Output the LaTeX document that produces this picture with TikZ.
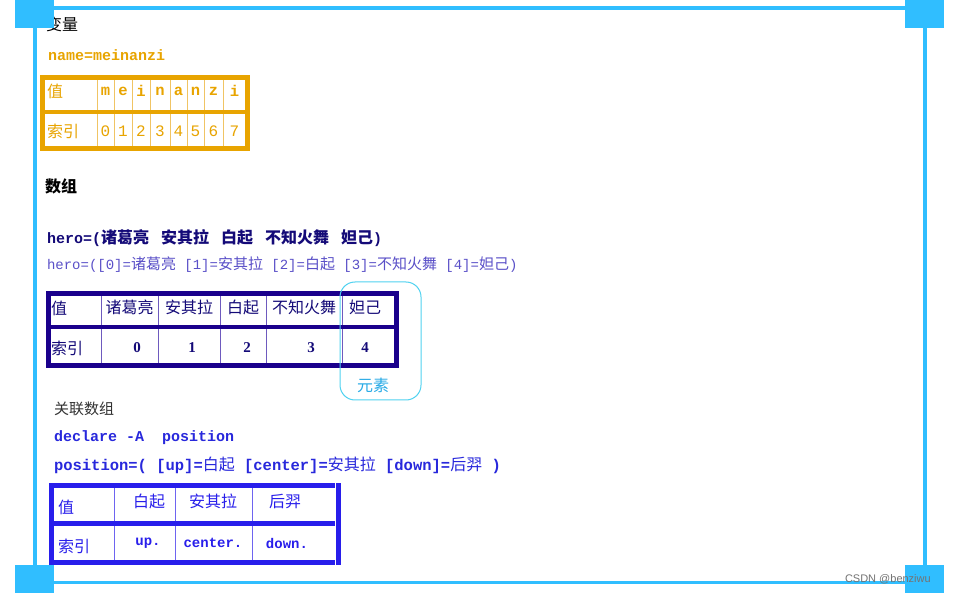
\documentclass[tikz,border=0pt]{standalone}
\usepackage{fontspec}
\setmainfont{Liberation Serif}
\newfontfamily\cjk{Noto Sans CJK SC}
\newfontfamily\mono{Liberation Mono}
\newfontfamily\sans{Liberation Sans}
\definecolor{frameC}{RGB}{48,190,255}
\definecolor{orangeC}{RGB}{232,164,0}
\definecolor{orangeL}{RGB}{240,196,100}
\definecolor{navyC}{RGB}{26,0,140}
\definecolor{navyL}{RGB}{110,90,190}
\definecolor{navyT}{RGB}{20,10,120}
\definecolor{heroL}{RGB}{90,80,200}
\definecolor{blueC}{RGB}{40,30,235}
\definecolor{blueL}{RGB}{110,100,240}
\definecolor{blueT}{RGB}{40,40,220}
\definecolor{cyanC}{RGB}{80,210,240}
\definecolor{cyanT}{RGB}{40,170,230}
\definecolor{greyT}{RGB}{50,50,50}
\tikzset{
  txt/.style={inner sep=0pt, outer sep=0pt},
  lw/.style={txt, anchor=west},
  cj/.style={font=\cjk\fontsize{#1}{#1}\selectfont},
  mo/.style={font=\mono\bfseries\fontsize{#1}{#1}\selectfont},
}
\newcommand{\mb}[1]{{\mono\bfseries\fontsize{15.5}{15.5}\selectfont #1}}
\newcommand{\cb}[1]{{\cjk\fontsize{16}{16}\selectfont #1}}
\newcommand{\ml}[1]{{\mono\fontsize{14}{14}\selectfont #1}}
\newcommand{\cl}[1]{{\cjk\fontsize{15}{15}\selectfont #1}}
\begin{document}
\begin{tikzpicture}[x=1pt,y=-1pt]
\useasboundingbox (0,0) rectangle (953,593);
\fill[white] (0,0) rectangle (953,593);

% ---------- headings ----------
\node[lw, cj=16, text=black] (h1) at (46,24) {变量};
\node[lw, text=orangeC, mo=15] (name) at (48,55) {name=meinanzi};

% ---------- table 1 ----------
\draw[orangeL, line width=1pt]
  \foreach \x in {97,114,132,150,170,187,204,223} { (\x,80) -- (\x,146) };
\draw[orangeC, line width=5pt] (42.5,77.5) rectangle (247.5,148.5);
\draw[orangeC, line width=4pt] (42.5,112) -- (247.5,112);
\node[lw, cj=16, text=orangeC] (t1v) at (47,91) {值};
\node[lw, cj=16, text=orangeC] (t1i) at (47,131) {索引};
\foreach \x/\c [count=\i] in {105.5/m,123/e,141/i,160/n,178.5/a,195.5/n,213.5/z,234.5/i}
  \node[txt, text=orangeC, mo=15.5] (t1c\i) at (\x,91) {\c};
\foreach \x/\c [count=\i] in {105.5/0,123/1,141/2,160/3,178.5/4,195.5/5,213.5/6,234.5/7}
  \node[txt, text=orangeC, font=\mono\fontsize{16}{16}\selectfont] (t1d\i) at (\x,131) {\c};

% ---------- section 2 ----------
\node[lw, font=\cjk\bfseries\fontsize{16}{16}\selectfont, text=black] (h2) at (45,186) {数组};
\node[lw, text=navyT] (hero1) at (47,238)
  {{\mono\bfseries\fontsize{15}{15}\selectfont hero=(}{\cjk\bfseries\fontsize{16}{16}\selectfont 诸葛亮\hspace{12pt}安其拉\hspace{12pt}白起\hspace{12pt}不知火舞\hspace{12pt}妲己}{\mono\bfseries\fontsize{15}{15}\selectfont )}};
\node[lw, text=heroL] (hero2) at (47,265)
  {\ml{hero=([0]=}\cl{诸葛亮}\ml{ [1]=}\cl{安其拉}\ml{ [2]=}\cl{白起}\ml{ [3]=}\cl{不知火舞}\ml{ [4]=}\cl{妲己}\ml{)}};

% ---------- table 2 ----------
\draw[navyL, line width=1pt]
  \foreach \x in {101,158,220,266,342} { (\x,296) -- (\x,364) };
\draw[navyC, line width=5pt] (48.5,293.5) rectangle (396.5,365.5);
\draw[navyC, line width=4pt] (48.5,327) -- (396.5,327);
\node[lw, cj=16, text=navyT] (t2v) at (51,308) {值};
\node[lw, cj=16, text=navyT] (t2i) at (51,348) {索引};
\foreach \x/\c [count=\i] in {129.5/诸葛亮,189/安其拉,243/白起,304/不知火舞,365/妲己}
  \node[txt, cj=16, text=navyT] (t2c\i) at (\x,307) {\c};
\foreach \x/\c [count=\i] in {137/0,192/1,247/2,311/3,365/4}
  \node[txt, text=navyT, font=\bfseries\fontsize{15}{15}\selectfont] (t2d\i) at (\x,348) {\c};

\draw[cyanC, line width=1pt, rounded corners=15pt] (340,282) rectangle (421,400);
\node[txt, cj=16, text=cyanT] (elem) at (373,385) {元素};

% ---------- section 3 ----------
\node[lw, cj=15, text=greyT] (h3) at (54,409) {关联数组};
\node[lw, text=blueT, mo=15] (decl) at (54,438) {declare -A\ \ position};
\node[lw, text=blueT] (pos) at (54,465)
  {\mb{position=( [up]=}\cb{白起}\mb{\ [center]=}\cb{安其拉}\mb{\ [down]=}\cb{后羿}\mb{\ )}};

% ---------- table 3 ----------
\draw[blueL, line width=1pt]
  \foreach \x in {114,175,252} { (\x,488) -- (\x,560) };
\draw[blueC, line width=5pt] (51.5,485.5) -- (335,485.5);
\draw[blueC, line width=5pt] (51.5,562.5) -- (335,562.5);
\draw[blueC, line width=5pt] (51.5,523.5) -- (335,523.5);
\draw[blueC, line width=5pt] (51.5,483) -- (51.5,565);
\draw[blueC, line width=5pt] (338.5,483) -- (338.5,565);
\node[lw, cj=16, text=blueC] (t3v) at (58,507) {值};
\node[lw, cj=16, text=blueC] (t3i) at (58,546) {索引};
\foreach \x/\c [count=\i] in {149/白起,213/安其拉,285/后羿}
  \node[txt, cj=16, text=blueC] (t3c\i) at (\x,501) {\c};
\foreach \x/\c [count=\i] in {148/up.,213/center.,287/down.}
  \node[txt, text=blueC, mo=14] (t3d\i) at (\x,543) {\c};

% ---------- frame ----------
\draw[frameC, line width=4pt] (54,8) -- (905,8);
\draw[frameC, line width=3pt] (54,582.5) -- (905,582.5);
\draw[frameC, line width=4pt] (35,28) -- (35,565);
\draw[frameC, line width=4pt] (925,28) -- (925,565);
\fill[frameC] (15,0) rectangle (54,28);
\fill[frameC] (905,0) rectangle (944,28);
\fill[frameC] (15,565) rectangle (54,593);
\fill[frameC] (905,565) rectangle (944,593);

\node[lw, text=gray!90!black, font=\sans\fontsize{11}{11}\selectfont] (wm) at (845,579) {CSDN @benziwu};
\end{tikzpicture}
\end{document}
